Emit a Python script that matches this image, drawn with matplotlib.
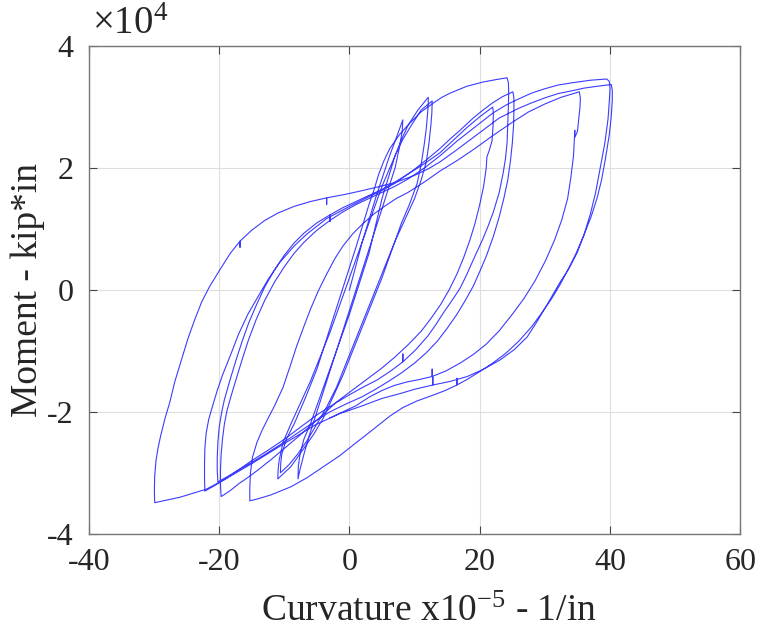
import numpy as np
import matplotlib
matplotlib.use("Agg")
import matplotlib.pyplot as plt

# ---- data: curvature (x1e-5 1/in) and moment (x1e4 kip*in), branch by branch ----
b00_curv = [0.0, 2.0, 4.0, 6.0, 8.2]
b00_mom = [0.0, 0.8, 1.5, 2.15, 2.79]

b01_curv = [8.2, 8.1, 7.6, 7.0, 5.5, 4.0, 2.5, 1.0, -0.5, -2.0, -3.5, -5.0, -6.2, -7.0, -7.6, -7.9]
b01_mom = [2.79, 2.6, 2.3, 2.0, 1.5, 1.0, 0.5, 0.0, -0.5, -1.0, -1.5, -2.0, -2.4, -2.7, -2.95, -3.1]

b02_curv = [-7.9, -7.85, -7.6, -7.0, -6.0, -4.5, -3.0, -1.5, 0.0, 1.5, 3.0, 4.0, 5.0, 6.0, 7.0,
            8.0, 9.0, 10.5, 12.1]
b02_mom = [-3.1, -2.9, -2.7, -2.45, -2.2, -1.75, -1.3, -0.85, -0.4, 0.1, 0.6, 1.05, 1.5, 1.85, 2.2,
           2.47, 2.7, 2.95, 3.16]

b03_curv = [12.1, 12.1, 12.0, 11.8, 11.5, 11.0, 10.4, 9.2, 8.0, 6.5, 5.0, 3.5, 2.0, 0.5, -1.0,
            -2.5, -4.0, -5.5, -7.0, -8.0, -9.0, -10.0, -11.0]
b03_mom = [3.16, 3.05, 2.9, 2.65, 2.4, 2.05, 1.75, 1.4, 1.1, 0.65, 0.2, -0.2, -0.6, -1.0, -1.4,
           -1.75, -2.1, -2.37, -2.6, -2.75, -2.9, -3.0, -3.1]

b04_curv = [-11.0, -10.95, -10.8, -10.2, -9.0, -7.5, -6.0, -4.5, -3.0, -1.5, 0.0, 1.5, 3.0,
            4.0, 5.0, 6.0, 7.0, 8.2, 9.5, 11.0, 12.7]
b04_mom = [-3.1, -2.95, -2.8, -2.5, -2.2, -1.85, -1.5, -1.1, -0.7, -0.25, 0.2, 0.65, 1.1,
           1.4, 1.7, 1.95, 2.2, 2.47, 2.7, 2.95, 3.1]

b05_curv = [12.7, 12.65, 12.5, 12.2, 11.8, 11.0, 10.0, 8.5, 7.0, 5.5, 4.0, 2.5, 1.0, -0.5,
            -2.0, -3.5, -5.0, -6.5, -8.0, -9.3, -10.6]
b05_mom = [3.1, 2.9, 2.7, 2.4, 2.1, 1.8, 1.5, 1.15, 0.8, 0.4, 0.0, -0.4, -0.8, -1.2,
           -1.6, -1.92, -2.2, -2.47, -2.7, -2.87, -3.0]

b06_curv = [-10.6, -10.55, -10.4, -9.7, -8.5, -6.8, -5.0, -3.5, -2.0, -0.5, 1.0, 2.0, 3.0, 3.8,
            4.5, 5.3, 6.2, 7.7, 9.3, 11.0, 12.8, 14.2, 15.5, 18.0, 20.5, 22.5, 24.2]
b06_mom = [-3.0, -2.85, -2.7, -2.45, -2.2, -1.78, -1.3, -0.8, -0.3, 0.2, 0.7, 1.05, 1.4, 1.65,
           1.9, 2.12, 2.32, 2.55, 2.74, 2.92, 3.06, 3.16, 3.23, 3.34, 3.41, 3.45, 3.48]

b07_curv = [24.2, 24.4, 24.45, 24.4, 24.3, 24.2, 23.95, 23.6, 23.0, 22.1, 21.3, 20.5, 19.0,
            18.0, 17.0, 15.7, 14.4, 13.2, 12.0, 10.1, 8.2, 8.2, 8.2, 6.2, 4.2, 2.0, 0.0,
            -2.5, -5.0, -7.5, -10.0, -12.5, -15.0, -17.0, -19.0, -20.7, -22.2]
b07_mom = [3.48, 3.4, 3.25, 3.0, 2.7, 2.41, 2.15, 1.92, 1.6, 1.28, 1.05, 0.84, 0.49,
           0.25, 0.03, -0.18, -0.38, -0.58, -0.76, -0.99, -1.18, -1.05, -1.18, -1.34, -1.48, -1.6, -1.72,
           -1.88, -2.05, -2.25, -2.45, -2.63, -2.8, -2.95, -3.1, -3.21, -3.3]

b08_curv = [-22.2, -22.25, -22.25, -22.2, -22.0, -21.6, -21.0, -20.3, -19.5, -18.3, -17.0,
            -15.6, -14.2, -12.5, -10.7, -8.5, -6.5, -3.5, 0.0, 3.0, 5.0, 7.0, 10.0, 12.0,
            13.9, 15.5, 17.0, 19.0, 20.5, 22.0, 23.5, 25.1]
b08_mom = [-3.3, -3.1, -2.85, -2.6, -2.35, -2.12, -1.9, -1.65, -1.4, -1.08, -0.72,
           -0.4, -0.14, 0.17, 0.45, 0.72, 0.92, 1.17, 1.37, 1.53, 1.63, 1.75, 1.98, 2.15,
           2.32, 2.48, 2.62, 2.82, 2.95, 3.07, 3.17, 3.25]

b09_curv = [25.1, 25.25, 25.25, 25.2, 25.0, 24.7, 24.3, 23.7, 23.0, 22.1, 21.0, 20.0, 19.0,
            17.8, 16.5, 15.0, 13.5, 11.8, 10.0, 8.0, 6.0, 4.0, 2.0, -0.5, -3.0, -5.5, -8.0,
            -10.5, -13.0, -15.0, -17.0, -18.7, -20.2]
b09_mom = [3.25, 3.15, 2.95, 2.7, 2.4, 2.1, 1.8, 1.5, 1.2, 0.88, 0.55, 0.3, 0.06,
           -0.17, -0.4, -0.63, -0.84, -1.03, -1.2, -1.36, -1.5, -1.63, -1.75, -1.87, -2.0, -2.17, -2.35,
           -2.53, -2.7, -2.83, -2.95, -3.06, -3.15]

b10_curv = [-20.2, -20.3, -20.3, -20.2, -20.0, -19.6, -19.2, -18.4, -17.5, -16.5, -15.5, -14.3,
            -13.0, -11.5, -10.0, -8.5, -7.0, -5.0, -3.0, -3.0, -3.0, -1.0, 1.0, 3.0, 5.0, 7.0,
            9.0, 11.5, 13.9, 16.0, 18.0, 20.0, 21.0, 22.0]
b10_mom = [-3.15, -2.95, -2.75, -2.5, -2.25, -2.0, -1.8, -1.5, -1.18, -0.85, -0.55, -0.25,
           0.05, 0.33, 0.57, 0.77, 0.93, 1.1, 1.23, 1.12, 1.23, 1.35, 1.45, 1.55, 1.65, 1.77,
           1.9, 2.07, 2.25, 2.46, 2.66, 2.84, 2.92, 3.0]

b11_curv = [22.0, 22.1, 22.05, 21.9, 21.5, 21.1, 21.0, 20.6, 20.0, 19.3, 18.5, 17.5, 16.5,
            15.3, 14.0, 12.5, 11.0, 9.0, 7.0, 5.0, 3.0, 0.5, -2.0, -4.0, -6.0, -8.0, -10.0,
            -12.0, -14.0, -15.5, -17.0, -18.4, -19.7]
b11_mom = [3.0, 2.9, 2.7, 2.45, 2.3, 2.18, 2.0, 1.7, 1.4, 1.1, 0.82, 0.52, 0.26,
           0.0, -0.24, -0.47, -0.68, -0.9, -1.1, -1.28, -1.44, -1.64, -1.84, -2.04, -2.23, -2.42, -2.6,
           -2.78, -2.95, -3.07, -3.18, -3.3, -3.39]

b12_curv = [-19.7, -19.8, -19.8, -19.7, -19.5, -19.2, -18.8, -18.2, -17.5, -16.5, -15.5, -14.3,
            -13.0, -11.5, -10.0, -8.5, -7.0, -5.0, -3.0, -1.0, 1.0, 3.0, 5.0, 7.0, 9.0, 11.5,
            13.9, 16.5, 19.0, 22.0, 24.0, 25.7, 28.0, 30.0, 32.0, 34.3, 37.0, 39.5]
b12_mom = [-3.39, -3.2, -2.95, -2.7, -2.45, -2.2, -1.98, -1.75, -1.5, -1.15, -0.82, -0.48,
           -0.17, 0.13, 0.38, 0.6, 0.78, 0.98, 1.14, 1.28, 1.4, 1.5, 1.6, 1.7, 1.82, 2.0,
           2.2, 2.44, 2.65, 2.9, 3.03, 3.12, 3.23, 3.3, 3.36, 3.4, 3.44, 3.46]

b13_curv = [39.5, 39.9, 40.0, 39.9, 39.7, 39.2, 38.5, 37.8, 37.0, 36.0, 35.0, 33.7, 32.3, 30.3,
            28.8, 27.3, 25.3, 23.1, 20.6, 18.1, 15.5, 12.8, 12.8, 12.8, 10.0, 7.8, 5.0, 2.0,
            -1.5, -5.0, -10.0, -15.0, -19.0, -22.0, -26.0, -29.9]
b13_mom = [3.46, 3.42, 3.3, 3.1, 2.8, 2.4, 2.0, 1.6, 1.25, 0.9, 0.62, 0.35, 0.12, -0.25,
           -0.52, -0.77, -0.98, -1.15, -1.3, -1.42, -1.5, -1.56, -1.43, -1.56, -1.63, -1.7, -1.78, -1.9,
           -2.03, -2.2, -2.52, -2.85, -3.1, -3.27, -3.4, -3.49]

b14_curv = [-29.9, -29.95, -29.9, -29.7, -29.4, -29.0, -28.3, -27.6, -26.8, -25.8, -24.8, -23.8,
            -22.7, -21.5, -19.9, -18.3, -16.8, -16.8, -16.8, -15.0, -13.0, -11.0, -8.5, -6.0,
            -3.5, -3.5, -3.5, -1.0, 1.6, 4.0, 7.0, 10.0, 12.0, 13.9, 16.5, 19.0, 21.0, 23.0,
            26.0, 28.0, 30.0, 32.0, 34.3, 36.0, 38.0, 40.2]
b14_mom = [-3.49, -3.3, -3.05, -2.8, -2.6, -2.4, -2.1, -1.85, -1.5, -1.15, -0.8, -0.5,
           -0.2, 0.05, 0.33, 0.6, 0.8, 0.7, 0.8, 0.98, 1.14, 1.26, 1.37, 1.45,
           1.51, 1.4, 1.51, 1.56, 1.62, 1.68, 1.76, 1.88, 1.98, 2.1, 2.3, 2.5, 2.66, 2.82,
           2.98, 3.07, 3.15, 3.22, 3.27, 3.31, 3.34, 3.37]

b15_curv = [40.2, 40.35, 40.35, 40.2, 39.9, 39.3, 38.7, 38.0, 37.1, 36.0, 34.8, 33.5, 32.3,
            31.0, 29.5, 28.0, 26.0, 24.0, 22.0, 20.0, 18.2, 16.5, 16.5, 16.5, 14.7, 13.0, 10.4,
            8.2, 6.2, 3.5, 1.1, -1.5, -4.0, -6.5, -9.0, -12.0, -13.8, -15.3]
b15_mom = [3.37, 3.28, 3.1, 2.85, 2.55, 2.15, 1.8, 1.5, 1.2, 0.9, 0.6, 0.32, 0.08,
           -0.15, -0.38, -0.6, -0.84, -1.04, -1.2, -1.34, -1.46, -1.56, -1.45, -1.56, -1.65, -1.72, -1.82,
           -1.93, -2.07, -2.3, -2.5, -2.72, -2.9, -3.08, -3.23, -3.36, -3.42, -3.46]

b16_curv = [-15.3, -15.3, -15.2, -14.9, -14.2, -13.4, -12.7, -11.5, -10.2, -9.1, -8.1, -7.0,
            -6.0, -4.8, -3.5, -2.2, -1.0, 0.5, 2.0, 3.8, 5.5, 7.2, 9.0, 11.5, 13.9, 16.5, 19.0,
            22.0, 25.0, 27.5, 30.0, 32.5, 35.3]
b16_mom = [-3.46, -3.25, -3.0, -2.75, -2.5, -2.3, -2.15, -1.9, -1.6, -1.25, -0.92, -0.6,
           -0.32, -0.02, 0.26, 0.52, 0.72, 0.92, 1.08, 1.25, 1.38, 1.5, 1.6, 1.77, 1.95, 2.12, 2.3,
           2.53, 2.75, 2.92, 3.05, 3.16, 3.25]

b17_curv = [35.3, 35.45, 35.4, 35.2, 35.0, 34.6, 34.6, 34.4, 34.0, 33.5, 32.6, 31.5, 30.1,
            28.5, 26.8, 25.0, 23.0, 21.0, 19.0, 17.0, 14.8, 12.7, 12.7, 12.7, 10.7, 8.8, 6.8,
            5.0, 3.0, 1.0, -1.0, -3.0]
b17_mom = [3.25, 3.15, 3.0, 2.8, 2.6, 2.5, 2.62, 2.2, 1.85, 1.5, 1.15, 0.82, 0.48,
           0.15, -0.14, -0.4, -0.67, -0.89, -1.06, -1.2, -1.33, -1.42, -1.3, -1.42, -1.47, -1.51, -1.57,
           -1.65, -1.76, -1.9, -2.0, -2.1]

branches_curv = [b00_curv, b01_curv, b02_curv, b03_curv, b04_curv, b05_curv, b06_curv,
                 b07_curv, b08_curv, b09_curv, b10_curv, b11_curv, b12_curv, b13_curv,
                 b14_curv, b15_curv, b16_curv, b17_curv]
branches_mom = [b00_mom, b01_mom, b02_mom, b03_mom, b04_mom, b05_mom, b06_mom,
                b07_mom, b08_mom, b09_mom, b10_mom, b11_mom, b12_mom, b13_mom,
                b14_mom, b15_mom, b16_mom, b17_mom]

x_ticks = [-40, -20, 0, 20, 40, 60]
y_ticks = [-4, -2, 0, 2, 4]

# ---- figure ----
plt.rcParams['font.family'] = ['Liberation Serif', 'DejaVu Serif']
plt.rcParams['mathtext.fontset'] = 'custom'
plt.rcParams['mathtext.rm'] = 'Liberation Serif'
plt.rcParams['mathtext.it'] = 'Liberation Serif:italic'

fig = plt.figure(figsize=(7.6, 6.4), dpi=100)
ax = fig.add_axes([0.117, 0.166, 0.857, 0.762])

curv = np.concatenate([np.asarray(c, float) for c in branches_curv])
mom = np.concatenate([np.asarray(m, float) for m in branches_mom])
ax.plot(curv, mom, color='#1a1aff', lw=0.8, alpha=0.85, solid_joinstyle='round')

ax.set_xlim(-40, 60)
ax.set_ylim(-4, 4)
ax.set_xticks(x_ticks)
ax.set_yticks(y_ticks)
ax.set_xticklabels([str(v) for v in x_ticks])
ax.set_yticklabels([str(v) for v in y_ticks])
ax.grid(True, color='#dedede', lw=0.8)
ax.set_axisbelow(True)
ax.tick_params(direction='in', top=True, right=True, length=6, width=0.8,
               color='#444444', labelsize=23, labelcolor='#262626')
ax.tick_params(axis='x', pad=10)
ax.tick_params(axis='y', pad=11)
for s in ax.spines.values():
    s.set_color('#777777')
    s.set_linewidth(1.0)

ax.set_xlabel('Curvature x10$^{-5}$ - 1/in', fontsize=27, color='#262626')
ax.xaxis.set_label_coords(0.522, -0.125)
ax.set_ylabel('Moment - kip*in', fontsize=27, color='#262626')
ax.yaxis.set_label_coords(-0.068, 0.5)
ax.text(0.004, 1.006, r'$\times10^{4}$', transform=ax.transAxes, fontsize=28,
        color='#262626', ha='left', va='bottom')

fig.savefig('out.png', dpi=100)
